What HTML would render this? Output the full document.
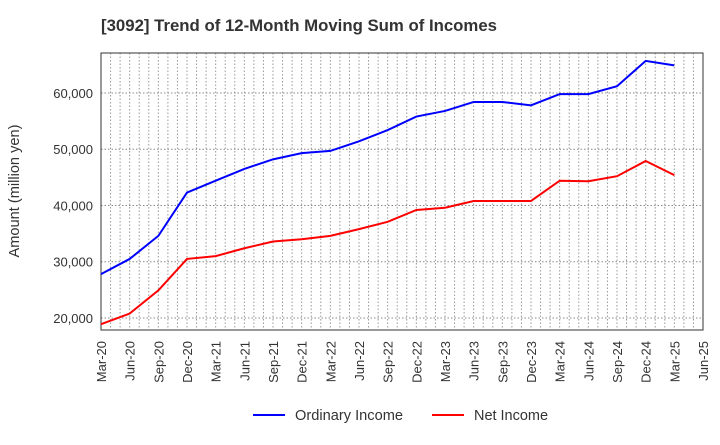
<!DOCTYPE html>
<html><head><meta charset="utf-8"><style>
body{margin:0;background:#fff;font-family:"Liberation Sans",Arial,sans-serif}
svg text{font-family:"Liberation Sans",Arial,sans-serif}
</style></head><body>
<svg id="c" width="720" height="440" xmlns="http://www.w3.org/2000/svg">
<text x="101" y="31" font-size="16.5" font-weight="bold" fill="#333" textLength="396" lengthAdjust="spacingAndGlyphs">[3092]  Trend of 12-Month Moving Sum of Incomes</text>
<text transform="translate(19,191) rotate(-90)" text-anchor="middle" font-size="14.5" fill="#333" textLength="133" lengthAdjust="spacingAndGlyphs">Amount (million yen)</text>
<g id="grid"></g><g id="axes"></g><g id="series"></g>
<g>
<line x1="253" y1="415" x2="285" y2="415" stroke="#0000ff" stroke-width="2"/>
<text x="295" y="420" font-size="14.5" fill="#333" textLength="108" lengthAdjust="spacingAndGlyphs">Ordinary Income</text>
<line x1="432" y1="415" x2="464" y2="415" stroke="#ff0000" stroke-width="2"/>
<text x="474" y="420" font-size="14.5" fill="#333" textLength="74" lengthAdjust="spacingAndGlyphs">Net Income</text>
</g>
</svg>
<script>
const categories=["Mar-20","Jun-20","Sep-20","Dec-20","Mar-21","Jun-21","Sep-21","Dec-21","Mar-22","Jun-22","Sep-22","Dec-22","Mar-23","Jun-23","Sep-23","Dec-23","Mar-24","Jun-24","Sep-24","Dec-24","Mar-25","Jun-25"];
const ordinaryIncome=[27800,30500,34600,42300,44400,46500,48200,49300,49700,51400,53400,55800,56800,58400,58400,57800,59800,59800,61200,65700,64900];
const netIncome=[18900,20800,24900,30500,31000,32400,33600,34000,34600,35800,37100,39200,39600,40800,40800,40800,44400,44300,45200,47900,45400];
const yTicks=[20000,30000,40000,50000,60000];
const yTickLabels=["20,000","30,000","40,000","50,000","60,000"];
const L=101,R=703,T=53,B=330,yMin=17870,yMax=67100;
const nQ=categories.length-1;
const xq=i=>L+(R-L)*i/nQ;
const y=v=>B-(v-yMin)/(yMax-yMin)*(B-T);
const NS="http://www.w3.org/2000/svg";
function mk(tag,attrs,parent){const e=document.createElementNS(NS,tag);for(const k in attrs)e.setAttribute(k,attrs[k]);document.getElementById(parent).appendChild(e);return e;}
for(let m=1;m<nQ*3;m++){const x=L+(R-L)*m/(nQ*3);
const g=mk("line",{x1:x,x2:x,y1:T,y2:B,stroke:"#999","stroke-dasharray":"1.5,2","stroke-width":1},"grid");

}
yTicks.forEach((v,i)=>{const g=mk("line",{x1:L,x2:R,y1:y(v),y2:y(v),stroke:"#888","stroke-dasharray":"1.5,2","stroke-width":1},"grid");


const t=mk("text",{x:L-8,y:y(v)+5,"text-anchor":"end","font-size":13,fill:"#333"},"axes");t.textContent=yTickLabels[i];

});
categories.forEach((c,i)=>{const x=xq(i);const t=mk("text",{transform:`translate(${x+5},${B+11}) rotate(-90)`,"text-anchor":"end","font-size":13,fill:"#333"},"axes");t.textContent=c;

});
const fr=mk("rect",{x:L,y:T,width:R-L,height:B-T,fill:"none",stroke:"#333","stroke-width":1},"axes");


function line(data,color,name){const p=mk("polyline",{points:data.map((v,i)=>xq(i)+","+y(v)).join(" "),fill:"none",stroke:color,"stroke-width":2},"series");

}
line(ordinaryIncome,"#0000ff","ordinary-income-line");
line(netIncome,"#ff0000","net-income-line");
</script>
</body></html>
